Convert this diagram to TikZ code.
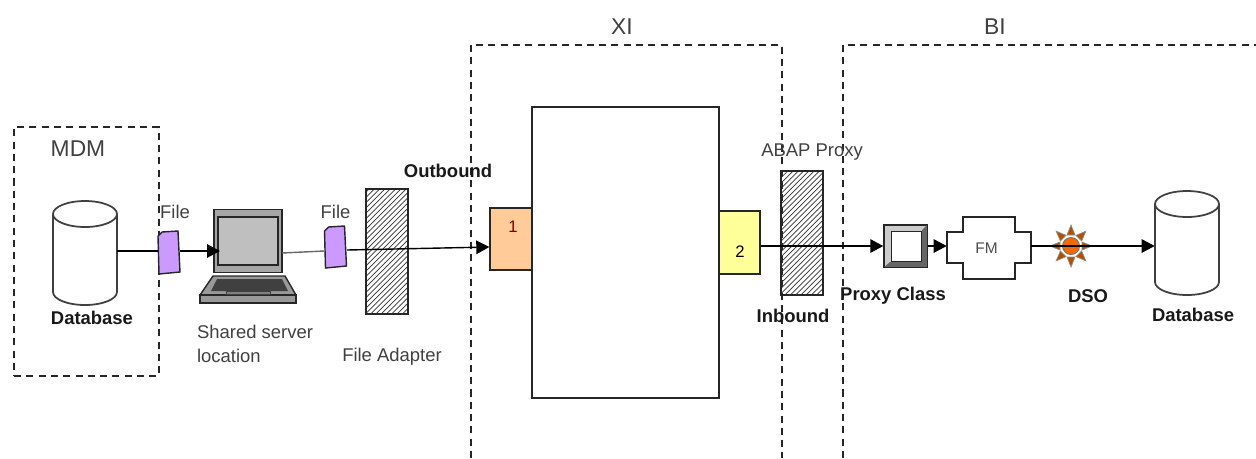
\documentclass[tikz,border=0pt]{standalone}
\usepackage{fontspec}
\setmainfont{Liberation Sans}
\usetikzlibrary{arrows.meta,positioning,patterns}

\definecolor{filepurple}{HTML}{CC99FF}
\definecolor{boxorange}{HTML}{FFCC99}
\definecolor{boxyellow}{HTML}{FFFF99}
\definecolor{dsoorange}{HTML}{F26A00}

\begin{document}
\begin{tikzpicture}[%
	x=0.02cm,y=-0.02cm,on grid,>={Triangle[length=2.6mm,width=2.7mm]},
	frame/.style={draw=black!85,line width=0.75pt,dash pattern=on 4pt off 3pt},
	block/.style={draw=black!85,line width=0.8pt,inner sep=0pt},
	hatch/.style={block,pattern=north east lines,pattern color=black!80},
	database/.style={minimum width=1.28cm,minimum height=2.08cm,inner sep=0pt},
	dbline/.style={draw=black!75,line width=1pt},
	conn/.style={draw=black,line width=0.8pt},
	lbl/.style={font=\fontsize{10.5}{13.6}\selectfont,text=black!75,inner sep=0pt},
	lblbold/.style={font=\fontsize{10.5}{13.6}\selectfont\bfseries,text=black!90,inner sep=0pt},
	lblbig/.style={font=\fontsize{13}{15}\selectfont,text=black!75,inner sep=0pt},
	lblsmall/.style={font=\fontsize{8.8}{10}\selectfont,text=black!70,inner sep=0pt},
	lblnum/.style={font=\fontsize{9.5}{10}\selectfont,inner sep=0pt},
	filenote/.style={minimum width=0.44cm,minimum height=0.84cm,inner sep=0pt}]

	\useasboundingbox (0,0) rectangle (1256,458);

	% frames
	\node[frame,minimum width=2.9cm,minimum height=4.98cm,inner sep=0pt]	(mdm)	at (86.5,251.5)	{};
	\draw[frame] (471,458) -- (471,45) -- (782,45) -- (782,458);
	\draw[frame] (843,458) -- (843,45) -- (1256,45);

	% blocks
	\node[block,minimum width=3.74cm,minimum height=5.82cm]				(xi)	at (625.5,252.5)	{};
	\node[block,fill=boxorange,minimum width=0.84cm,minimum height=1.24cm]	(boxA)	at (511,239)	{};
	\node[block,fill=boxyellow,minimum width=0.82cm,minimum height=1.26cm]	(boxB)	at (739.5,242.5)	{};
	\node[hatch,minimum width=0.84cm,minimum height=2.5cm]					(adapter)	at (387,251.5)	{};
	\node[hatch,minimum width=0.84cm,minimum height=2.48cm]				(abap)	at (802,233)	{};
	\node[database]	(dbMdm)	at (85,253)		{};
	\node[database]	(dbBi)	at (1187,243)	{};
	\node[filenote]	(fileA)	at (169,251)	{};
	\node[filenote]	(fileB)	at (335.5,246)	{};

	% cylinders
	\foreach \db in {dbMdm,dbBi}
		\draw[dbline,shift={(\db.center)}] (-32,-39) -- (-32,39) arc (180:0:32 and 13) -- (32,-39)
			(0,-39) ellipse [x radius=32,y radius=13];

	% file notes
	\draw[block,fill=filepurple,shift={(fileA.center)}] (-11,-15) -- (-7,-19) -- (9,-20) -- (11,21) -- (-10,23) -- cycle;
	\draw[block,fill=filepurple,shift={(fileB.center)}] (-11,-15) -- (-7,-19) -- (9,-20) -- (11,20) -- (-10,22) -- cycle;
	\coordinate (fileBin) at (324,251);
	\coordinate (fileBout) at (347,250);

	% laptop
	\node[block,fill=black!35,minimum width=1.36cm,minimum height=1.26cm]	(laptop)	at (248,241)	{};
	\node[block,fill=black!25,minimum width=1.2cm,minimum height=0.96cm]	(screen)	at (248,241)	{};
	\draw[block,fill=black!40] (213,276) -- (285,276) -- (296,295) -- (200,295) -- cycle;
	\draw[block,fill=black!40] (200,295) rectangle (296,303);
	\fill[black!75] (217,279) -- (282,279) -- (288,291) -- (211,291) -- cycle;
	\draw[black!75,fill=black!50,line width=0.4pt] (226,291) rectangle (270,294);
	\coordinate (lapIn) at (220,251);
	\coordinate (lapOut) at (282,253);

	% proxy class
	\node[block,fill=black!20,minimum width=0.86cm,minimum height=0.84cm]	(proxy)	at (905.5,246)	{};
	\fill[black!60] (proxy.south west) -- (proxy.south east) -- (proxy.north east) -- (922,230) -- (922,262) -- (890,262) -- cycle;
	\node[block,line width=0.5pt,fill=white,minimum width=0.6cm,minimum height=0.6cm]	(proxyIn)	at (906,246)	{};
	\draw[block] (proxy.south west) rectangle (proxy.north east);

	% FM
	\node[lblsmall,minimum width=1.68cm,minimum height=1.24cm]	(fm)	at (989,248)	{\hspace*{-0.1cm}FM};
	\draw[block,shift={(fm.center)}] (-42,-16) -- (-26,-16) -- (-26,-31) -- (26,-31) -- (26,-16) -- (42,-16)
		-- (42,15) -- (26,15) -- (26,31) -- (-26,31) -- (-26,15) -- (-42,15) -- cycle;

	% DSO
	\node[circle,draw=black!55,fill=dsoorange,line width=0.5pt,minimum size=0.34cm,inner sep=0pt]	(dso)	at (1071,246)	{};
	\foreach \ang in {0,45,...,315}
		\draw[draw=black!45,fill=dsoorange!75!black,line width=0.4pt,shift={(dso.center)},rotate=\ang]
			(11,-4) -- (21,0) -- (11,4) -- cycle;

	% connectors
	\draw[conn] (dbMdm.east |- fileA.west) -- (fileA.west);
	\draw[conn,->] (fileA.east) -- (lapIn);
	\draw[conn,draw=black!60] (lapOut) -- (fileBin);
	\draw[conn,->] (fileBout) -- (boxA.west |- 0,247);
	\draw[conn,->] (boxB.east |- proxy.west) -- (proxy.west);
	\draw[conn,->] (proxy.east) -- (fm.west |- proxy.east);
	\draw[conn] (fm.east |- dso.center) -- (dso.center);
	\draw[conn,->] (dso.center) -- (dbBi.west |- dso.center);

	% labels
	\node[lblbig]	(xiLabel)	at (622,27)	{XI};
	\node[lblbig]	(biLabel)	at (995,27)	{BI};
	\node[lblbig]	(mdmLabel)	[above left=2.05cm and 0.17cm of mdm]	{MDM};
	\node[lbl]		(fileAlabel)	[above right=0.78cm and 0.12cm of fileA]	{File};
	\node[lbl]		(fileBlabel)	[above=0.68cm of fileB]	{File};
	\node[lblbold]	(dbMdmLabel)	[below right=1.3cm and 0.14cm of dbMdm]	{Database};
	\node[lblbold]	(dbBiLabel)	[below right=1.44cm and 0.12cm of dbBi]	{Database};
	\node[lbl,align=left]	(lapLabel)	[below right=2.06cm and 0.14cm of laptop]	{Shared server\\location};
	\node[lbl]		(adapterLabel)	[below right=2.11cm and 0.1cm of adapter]	{File Adapter};
	\node[lblbold]	(outLabel)	at (448,171)	{Outbound};
	\node[lbl]		(abapLabel)	[above right=1.62cm and 0.2cm of abap]	{ABAP Proxy};
	\node[lblbold]	(inLabel)	[below left=1.66cm and 0.18cm of abap]	{Inbound};
	\node[lblbold]	(proxyLabel)	[below left=1cm and 0.25cm of proxy]	{Proxy Class};
	\node[lblbold]	(dsoLabel)	[below right=1cm and 0.34cm of dso]	{DSO};
	\node[lblnum,text=red!50!black]	(numA)	at (513,227)	{1};
	\node[lblnum,text=black]			(numB)	at (740,252)	{2};

\end{tikzpicture}
\end{document}
